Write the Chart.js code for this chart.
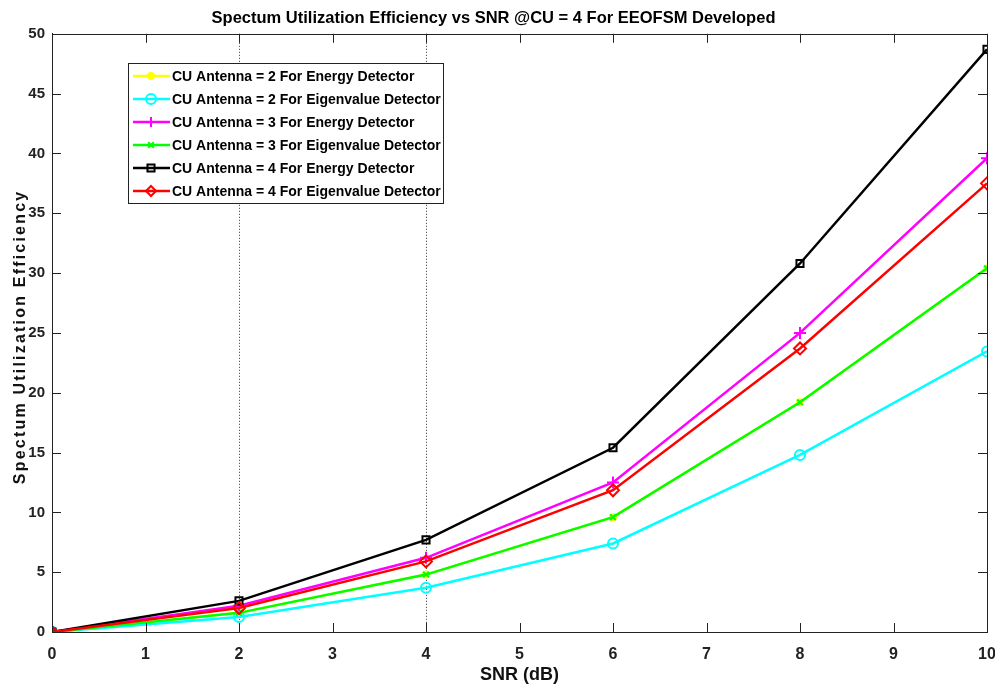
<!DOCTYPE html>
<html>
<head>
<meta charset="utf-8">
<script src="https://cdn.jsdelivr.net/npm/chart.js@4"></script>
<style>
  html, body { margin: 0; padding: 0; background: #fff; }
  #wrap { width: 995px; height: 693px; }
</style>
</head>
<body>
<div id="wrap"><canvas id="chart" width="995" height="693"></canvas></div>
<script>
// valores
const snr = [0, 2, 4, 6, 8, 10];
const ant2Energy = [0, 1.6, 4.8, 9.6, 19.2, 30.4];
const ant2Eigen = [0, 1.25, 3.7, 7.4, 14.8, 23.45];
const ant3Energy = [0, 2.2, 6.2, 12.5, 25.0, 39.6];
const ant3Eigen = [0, 1.6, 4.8, 9.6, 19.2, 30.4];
const ant4Energy = [0, 2.6, 7.7, 15.4, 30.8, 48.7];
const ant4Eigen = [0, 2.0, 5.9, 11.85, 23.7, 37.5];
const gridX = [2, 4];
const yTitle = 'Spectum Utilization Efficiency';

const sans = "'Liberation Sans', Arial, sans-serif";

function pts(vals) {
  return snr.map((x, i) => ({ x: x, y: vals[i] }));
}

function serie(label, vals, color, style, radius, fill, order) {
  return {
    label: label,
    data: pts(vals),
    borderColor: color,
    backgroundColor: fill ? color : 'rgba(0,0,0,0)',
    pointBorderColor: color,
    pointBackgroundColor: fill ? color : 'rgba(0,0,0,0)',
    pointStyle: style,
    pointRadius: radius,
    pointBorderWidth: 2,
    borderWidth: 2.5,
    tension: 0,
    order: order
  };
}

const datasets = [
  serie('CU Antenna = 2 For Energy Detector', ant2Energy, '#ffff00', 'circle', 3, true, 6),
  serie('CU Antenna = 2 For Eigenvalue Detector', ant2Eigen, '#00ffff', 'circle', 5, false, 5),
  serie('CU Antenna = 3 For Energy Detector', ant3Energy, '#ff00ff', 'cross', 6, false, 4),
  serie('CU Antenna = 3 For Eigenvalue Detector', ant3Eigen, '#00ff00', 'crossRot', 4, false, 3),
  serie('CU Antenna = 4 For Energy Detector', ant4Energy, '#000000', 'rect', 5, false, 2),
  serie('CU Antenna = 4 For Eigenvalue Detector', ant4Eigen, '#ff0000', 'rectRot', 6, false, 1)
];

// linhas pontilhadas, caixa, ticks internos, legenda e título do eixo y
const boxPlugin = {
  id: 'box',
  beforeDatasetsDraw(chart) {
    const { ctx, chartArea: a, scales } = chart;
    ctx.save();
    ctx.strokeStyle = '#333';
    ctx.lineWidth = 1;
    ctx.setLineDash([1, 2]);
    gridX.forEach(v => {
      const px = Math.round(scales.x.getPixelForValue(v)) + 0.5;
      ctx.beginPath();
      ctx.moveTo(px, a.top);
      ctx.lineTo(px, a.bottom);
      ctx.stroke();
    });
    ctx.restore();
  },
  afterDatasetsDraw(chart) {
    const { ctx, chartArea: a, scales } = chart;
    ctx.save();
    ctx.strokeStyle = '#222';
    ctx.lineWidth = 1;
    ctx.strokeRect(Math.round(a.left) + 0.5, Math.round(a.top) + 0.5,
      Math.round(a.right - a.left), Math.round(a.bottom - a.top));
    const len = 9;
    ctx.beginPath();
    scales.x.ticks.forEach(t => {
      const px = Math.round(scales.x.getPixelForValue(t.value)) + 0.5;
      ctx.moveTo(px, a.bottom); ctx.lineTo(px, a.bottom - len);
      ctx.moveTo(px, a.top); ctx.lineTo(px, a.top + len);
    });
    scales.y.ticks.forEach(t => {
      const py = Math.round(scales.y.getPixelForValue(t.value)) + 0.5;
      ctx.moveTo(a.left, py); ctx.lineTo(a.left + len, py);
      ctx.moveTo(a.right, py); ctx.lineTo(a.right - len, py);
    });
    ctx.stroke();
    ctx.restore();
  },
  afterDraw(chart) {
    const { ctx, chartArea: a } = chart;
    // legenda
    const x0 = 128, y0 = 63, w = 315, rowH = 23;
    const h = rowH * chart.data.datasets.length + 2;
    ctx.save();
    ctx.fillStyle = '#fff';
    ctx.fillRect(x0, y0, w, h);
    ctx.strokeStyle = '#222';
    ctx.lineWidth = 1;
    ctx.strokeRect(x0 + 0.5, y0 + 0.5, w, h);
    ctx.font = 'bold 14px ' + sans;
    ctx.textBaseline = 'middle';
    chart.data.datasets.forEach((ds, i) => {
      const cy = y0 + 13 + i * rowH;
      ctx.strokeStyle = ds.borderColor;
      ctx.lineWidth = 2.5;
      ctx.beginPath();
      ctx.moveTo(x0 + 5, cy);
      ctx.lineTo(x0 + 42, cy);
      ctx.stroke();
      ctx.lineWidth = 2;
      ctx.fillStyle = ds.pointBackgroundColor;
      Chart.helpers.drawPoint(ctx, {
        pointStyle: ds.pointStyle,
        radius: Math.min(ds.pointRadius, 5),
        borderWidth: 2,
        rotation: 0
      }, x0 + 23, cy);
      ctx.fillStyle = '#000';
      ctx.fillText(ds.label, x0 + 44, cy + 1);
    });
    // título do eixo y, com espaçamento entre letras
    ctx.translate(25, (a.top + a.bottom) / 2 + 4);
    ctx.rotate(-Math.PI / 2);
    ctx.font = 'bold 16px ' + sans;
    ctx.letterSpacing = '2.2px';
    ctx.textAlign = 'center';
    ctx.textBaseline = 'alphabetic';
    ctx.fillStyle = '#111';
    ctx.fillText(yTitle, 0, 0);
    ctx.restore();
  }
};

new Chart(document.getElementById('chart').getContext('2d'), {
  type: 'line',
  data: { datasets: datasets },
  plugins: [boxPlugin],
  options: {
    responsive: false,
    animation: false,
    layout: { padding: { top: 0, right: 8, left: 0, bottom: 0 } },
    plugins: {
      legend: { display: false },
      tooltip: { enabled: false },
      title: {
        display: true,
        text: 'Spectum Utilization Efficiency vs SNR @CU = 4 For EEOFSM Developed',
        color: '#000',
        font: { family: sans, size: 16.5, weight: 'bold' },
        padding: { top: 9, bottom: 5 }
      }
    },
    scales: {
      x: {
        type: 'linear',
        min: 0,
        max: 10,
        grid: { display: false },
        border: { display: true, color: '#222' },
        ticks: { stepSize: 1, color: '#222', padding: 5, font: { family: sans, size: 16, weight: 'bold' } },
        title: { display: true, text: 'SNR (dB)', color: '#111', padding: { top: 0, bottom: 7 }, font: { family: sans, size: 18, weight: 'bold' } },
        afterFit(s) { s.height = 61; s.paddingLeft = 0; s.paddingRight = 0; }
      },
      y: {
        min: 0,
        max: 50,
        grid: { display: false, drawTicks: false },
        border: { display: true, color: '#222' },
        ticks: { stepSize: 5, color: '#222', padding: 7, font: { family: sans, size: 15, weight: 'bold' } },
        afterFit(s) { s.width = 52; s.paddingTop = 0; s.paddingBottom = 0; }
      }
    }
  }
});
</script>
</body>
</html>
